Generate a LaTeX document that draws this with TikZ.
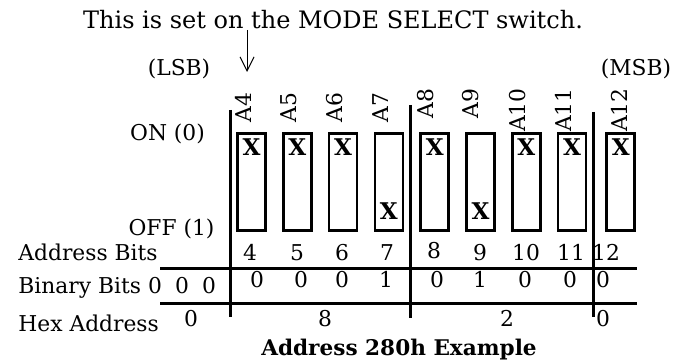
\documentclass[tikz,border=0pt]{standalone}
\usepackage{fontspec}
\setmainfont{DejaVu Serif}
\usepackage{tikz}
\usetikzlibrary{positioning, arrows.meta}
\tikzset{
x=0.5pt, y=0.5pt, % one unit is one pixel of the drawing
switch/.style={draw, line width=1.3pt, minimum width=14pt, minimum height=48.7pt, inner sep=0pt, anchor=north}, % the body of one DIP switch
xmark/.style={font=\fontsize{11.5}{13}\selectfont\bfseries, inner sep=0pt}, % shows where the switch is set
pinlabel/.style={rotate=90, anchor=east, inner sep=0pt}, % address line names
bit/.style={anchor=base, inner sep=0pt}, % numbers in the table
rowlabel/.style={anchor=base west, inner sep=0pt}, % names of the table rows
divider/.style={line width=1.5pt}, % lines of the table
}

\begin{document}
\begin{tikzpicture}[font=\fontsize{10.9}{13}\selectfont]
    \useasboundingbox (0,0) rectangle (683,-362);

    % the note and its arrow
    \node[anchor=base, font=\fontsize{12}{14}\selectfont] (note) at (333,-29) {This is set on the MODE SELECT switch.};
    \node[anchor=base] (lsb) at (179,-76) {(LSB)};
    \node[anchor=base] (msb) at (636,-76) {(MSB)};
    \coordinate (pointer start) at (247,-30);
    \coordinate (pointer end) at (247,-72);
    \draw[-{Straight Barb[length=7pt,width=7pt]}, line width=0.5pt] (pointer start) -- (pointer end);

    % the switches
    \node[switch] (sw4) at (251.5,-132) {};
    \node[switch, right=7.6pt of sw4] (sw5) {};
    \node[switch, right=7.6pt of sw5] (sw6) {};
    \node[switch, right=7.6pt of sw6] (sw7) {};
    \node[switch, right=7.6pt of sw7] (sw8) {};
    \node[switch, right=7.6pt of sw8] (sw9) {};
    \node[switch, right=7.6pt of sw9] (sw10) {};
    \node[switch, right=7.6pt of sw10] (sw11) {};
    \node[switch, right=9pt of sw11] (sw12) {};

    \node[xmark, below=3pt of sw4.north] (x4) {X};
    \node[xmark, below=3pt of sw5.north] (x5) {X};
    \node[xmark, below=3pt of sw6.north] (x6) {X};
    \node[xmark, above=6pt of sw7.south] (x7) {X};
    \node[xmark, below=3pt of sw8.north] (x8) {X};
    \node[xmark, above=6pt of sw9.south] (x9) {X};
    \node[xmark, below=3pt of sw10.north] (x10) {X};
    \node[xmark, below=3pt of sw11.north] (x11) {X};
    \node[xmark, below=3pt of sw12.north] (x12) {X};

    \node[pinlabel] (a4) at (243,-92) {A4};
    \node[pinlabel] (a5) at (289,-92) {A5};
    \node[pinlabel] (a6) at (335,-92) {A6};
    \node[pinlabel] (a7) at (381,-92) {A7};
    \node[pinlabel] (a8) at (426,-88) {A8};
    \node[pinlabel] (a9) at (471,-88) {A9};
    \node[pinlabel] (a10) at (518,-88) {A10};
    \node[pinlabel] (a11) at (563,-88) {A11};
    \node[pinlabel] (a12) at (619,-88) {A12};

    \node[anchor=base] (on) at (167.5,-141) {ON (0)};
    \node[anchor=base] (off) at (171.5,-236) {OFF (1)};

    % the table
    \draw[divider] (230,-110) -- (230,-317);
    \draw[divider] (410,-105) -- (410,-318);
    \draw[divider] (593,-112) -- (593,-317);
    \draw[divider] (160,-269) -- (637,-269);
    \draw[divider] (160,-304) -- (637,-304);

    \node[rowlabel] (addrbits) at (18,-261) {Address Bits};
    \node[rowlabel] (binbits) at (18,-293) {Binary Bits};
    \node[rowlabel] (hexaddr) at (18,-331) {Hex Address};

    \node[bit] (ab4) at (250,-261) {4};
    \node[bit] (ab5) at (297,-261) {5};
    \node[bit] (ab6) at (342,-261) {6};
    \node[bit] (ab7) at (387,-261) {7};
    \node[bit] (ab8) at (434,-259) {8};
    \node[bit] (ab9) at (480,-261) {9};
    \node[bit] (ab10) at (526,-261) {10};
    \node[bit] (ab11) at (571,-261) {11};
    \node[bit] (ab12) at (606,-261) {12};

    \node[bit] (bb1) at (155,-293) {0};
    \node[bit] (bb2) at (182,-293) {0};
    \node[bit] (bb3) at (209,-293) {0};
    \node[bit] (bb4) at (257,-288) {0};
    \node[bit] (bb5) at (301,-288) {0};
    \node[bit] (bb6) at (342,-288) {0};
    \node[bit] (bb7) at (386,-288) {1};
    \node[bit] (bb8) at (437,-288) {0};
    \node[bit] (bb9) at (480,-288) {1};
    \node[bit] (bb10) at (525,-288) {0};
    \node[bit] (bb11) at (570,-288) {0};
    \node[bit] (bb12) at (603,-288) {0};

    \node[bit] (hex0) at (191,-327) {0};
    \node[bit] (hex1) at (325,-327) {8};
    \node[bit] (hex2) at (507,-327) {2};
    \node[bit] (hex3) at (603,-327) {0};

    \node[anchor=base, font=\fontsize{10.8}{13}\selectfont\bfseries] (title) at (399,-355) {Address 280h Example};
\end{tikzpicture}
\end{document}
